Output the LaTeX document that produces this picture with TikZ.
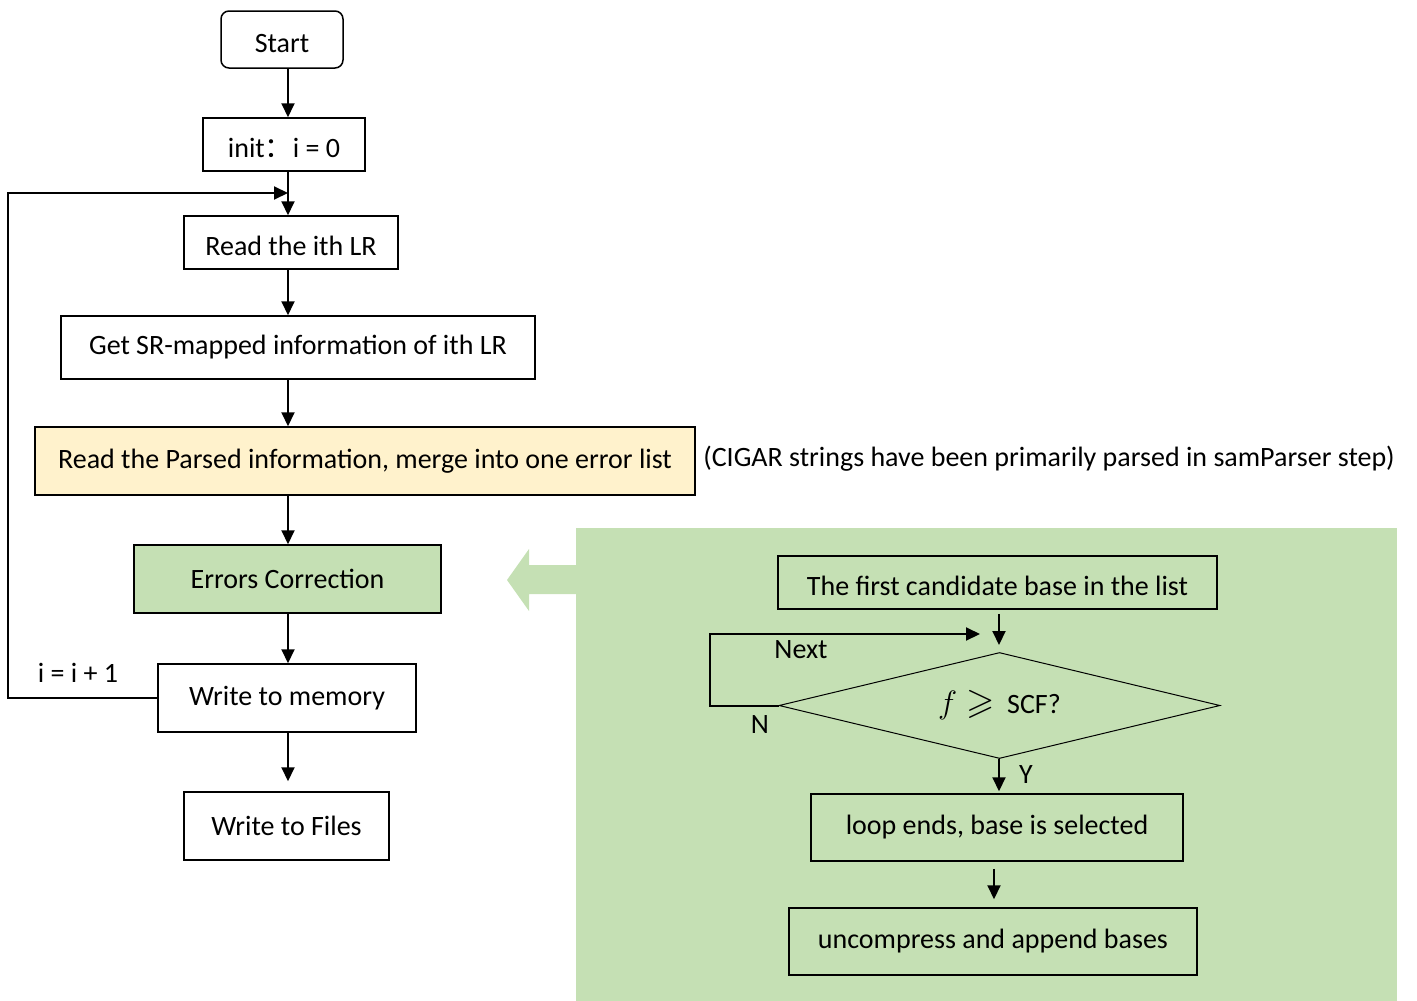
\documentclass[tikz,border=0pt]{standalone}
\usepackage{fontspec}
\usepackage{amssymb}
\setmainfont{Carlito}
\newfontfamily\cjk{Noto Sans CJK SC}
\usetikzlibrary{arrows.meta,shapes.geometric}
\definecolor{panelgreen}{HTML}{C5E0B4}
\definecolor{paleyellow}{HTML}{FFF2CC}
\begin{document}
\begin{tikzpicture}[x=1pt,y=-1pt,
  font=\fontsize{28}{32}\selectfont,
  box/.style={draw, line width=1.5pt, inner sep=0pt},
  lower/.style={text height=34pt, text depth=8pt},
  conn/.style={line width=2pt, -{Triangle[length=14pt,width=13pt]}},
  lbl/.style={inner sep=0pt}]
\useasboundingbox (0,0) rectangle (1417,1001);
% green panel and big arrow
\fill[panelgreen] (576,528) rectangle (1397,1001);
\fill[panelgreen] (576,565) -- (529,565) -- (529,549) -- (507,580) -- (529,611) -- (529,594) -- (576,594) -- cycle;
% main flow
\node[box, lower, rounded corners=8pt, minimum width=122pt, minimum height=57pt] (start) at (282,39.5) {Start};
\node[box, lower, minimum width=162pt, minimum height=53pt] (init) at (284,144.5) {init{\cjk ：}i = 0\hspace{10pt}};
\node[box, lower, minimum width=214pt, minimum height=53pt] (read) at (291,242.5) {Read the ith LR};
\node[box, minimum width=474pt, minimum height=63pt] (getsr) at (298,347.5) {Get SR-mapped information of ith LR\hspace{16pt}};
\node[box, fill=paleyellow, minimum width=660pt, minimum height=68pt] (parsed) at (365,461) {Read the Parsed information, merge into one error list\hspace{6pt}};
\node[box, fill=panelgreen, minimum width=307pt, minimum height=68pt] (errc) at (287.5,579) {Errors Correction};
\node[box, minimum width=258pt, minimum height=68pt] (wmem) at (287,698) {Write to memory\hspace{20pt}};
\node[box, minimum width=205pt, minimum height=68pt] (wfiles) at (286.5,826) {Write to Files\hspace{13pt}};
\node[lbl] (note) at (1049,459) {(CIGAR strings have been primarily parsed in samParser step)};
\node[lbl] (incr) at (78,673) {i = i + 1};
% spine
\coordinate (sp) at (288,0);
\draw[conn] (sp |- start.south) -- (sp |- init.north);
\draw[conn] (sp |- init.south) -- (sp |- read.north);
\draw[conn] (sp |- read.south) -- (sp |- getsr.north);
\draw[conn] (sp |- getsr.south) -- (sp |- parsed.north);
\draw[conn] (sp |- parsed.south) -- (sp |- errc.north);
\draw[conn] (sp |- errc.south) -- (sp |- wmem.north);
\draw[conn] (sp |- wmem.south) -- ([yshift=10pt]sp |- wfiles.north);
% loop back
\coordinate (lp) at (8,193);
\draw[conn] (wmem.west) -- (lp |- wmem.west) -- (lp) -- (sp |- lp);
% inner panel
\node[box, lower, minimum width=439pt, minimum height=53pt] (first) at (997.5,582.5) {The first candidate base in the list\hspace{15pt}};
\node[draw, line width=1pt, diamond, shape aspect=4.2, inner sep=0pt, minimum width=441pt, minimum height=106pt] (dec) at (999.5,705.5) {\scalebox{1.3}{$f \geqslant$}\ \ SCF?};
\node[box, minimum width=372pt, minimum height=67pt] (loopend) at (997,827.5) {loop ends, base is selected\hspace{30pt}};
\node[box, minimum width=408pt, minimum height=67pt] (uncomp) at (993,941.5) {uncompress and append bases};
\coordinate (ix) at (999,0);
\coordinate (ix2) at (994,0);
\draw[conn] ([yshift=-4pt]ix |- first.south) -- ([yshift=7pt]ix |- dec.north);
\draw[conn] (ix |- dec.south) -- ([yshift=2pt]ix |- loopend.north);
\draw[conn] ([yshift=-7pt]ix2 |- loopend.south) -- ([yshift=8pt]ix2 |- uncomp.north);
\coordinate (nl) at (710,634);
\coordinate (nextend) at (980,634);
\draw[conn] (dec.west) -- (nl |- dec.west) -- (nl) -- (nextend);
\node[lbl] (nextlbl) at (801,650) {Next};
\node[lbl] (nlbl) at (760,725) {N};
\node[lbl] (ylbl) at (1026,775) {Y};
\end{tikzpicture}
\end{document}
